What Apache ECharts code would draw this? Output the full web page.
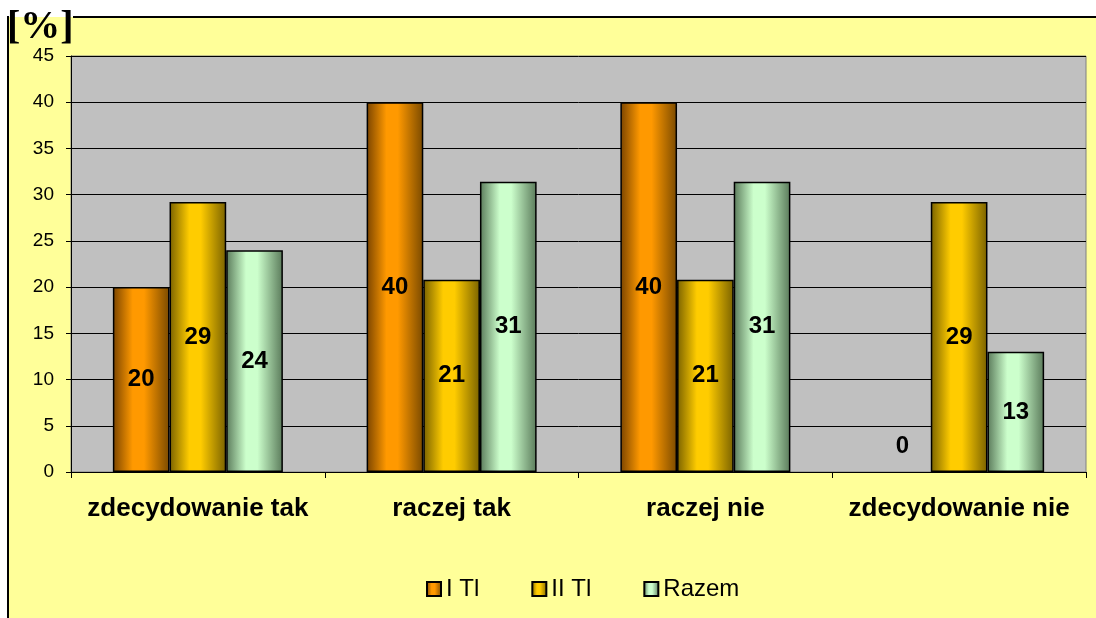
<!DOCTYPE html>
<html>
<head>
<meta charset="utf-8">
<script src="https://cdn.jsdelivr.net/npm/echarts@6/dist/echarts.min.js"></script>
<style>
html,body{margin:0;padding:0;background:#fff;}
#chart{width:1096px;height:618px;}
</style>
</head>
<body>
<div id="chart"></div>
<script>
const categories = ['zdecydowanie tak', 'raczej tak', 'raczej nie', 'zdecydowanie nie'];
const seriesNames = ['I Tl', 'II Tl', 'Razem'];
const valuesITl = [20, 40, 40, 0];
const valuesIITl = [29.2, 20.8, 20.8, 29.2];
const valuesRazem = [24, 31.4, 31.4, 13];
const yMin = 0, yMax = 45, yStep = 5;
const unitLabel = '[%]';

function grad(dark, light, dark2) {
  return new echarts.graphic.LinearGradient(0, 0, 1, 0, [
    {offset: 0, color: dark},
    {offset: 0.35, color: light},
    {offset: 0.55, color: light},
    {offset: 1, color: dark2}
  ]);
}
const fills = [
  grad('#7a4400', '#ff9900', '#7a4a00'),
  grad('#7a6200', '#ffcc00', '#7a6200'),
  grad('#5a7a5a', '#ccffcc', '#5a7a5a')
];

function mkData(vals) {
  return vals.map(v => v === 0
    ? {value: v, itemStyle: {borderWidth: 0}, label: {position: 'top', distance: 14}}
    : v);
}
const allValues = [valuesITl, valuesIITl, valuesRazem];

const chart = echarts.init(document.getElementById('chart'), null, {renderer: 'canvas'});
chart.setOption({
  backgroundColor: '#ffffff',
  animation: false,
  graphic: [
    {type: 'rect', z: -10, shape: {x: 8, y: 17, width: 1100, height: 610}, style: {fill: '#ffff99'}},
    {type: 'line', z: 100, shape: {x1: 73, y1: 17, x2: 1096, y2: 17}, style: {stroke: '#000', lineWidth: 2}},
    {type: 'line', z: 100, shape: {x1: 8, y1: 16, x2: 8, y2: 618}, style: {stroke: '#000', lineWidth: 2}},
    {type: 'text', z: 100, left: 7, top: 8, style: {text: unitLabel, font: 'bold 40px "Liberation Serif"', fill: '#000'}}
  ],
  grid: {
    left: 71, right: 10, top: 56, bottom: 146,
    show: true, backgroundColor: '#c0c0c0', borderColor: '#808080', borderWidth: 1
  },
  legend: {
    left: 421, top: 572,
    itemWidth: 14, itemHeight: 14, itemGap: 52,
    icon: 'rect',
    textStyle: {fontFamily: 'Liberation Sans', fontSize: 24, color: '#000'},
    data: seriesNames
  },
  xAxis: {
    type: 'category',
    data: categories,
    axisLine: {lineStyle: {color: '#000', width: 1}},
    axisTick: {show: true, length: 6, lineStyle: {color: '#000'}},
    axisLabel: {interval: 0, margin: 24, color: '#000', fontFamily: 'Liberation Sans', fontWeight: 'bold', fontSize: 26}
  },
  yAxis: {
    type: 'value', min: yMin, max: yMax, interval: yStep,
    axisLine: {show: true, lineStyle: {color: '#000', width: 1}},
    axisTick: {show: true, length: 5, lineStyle: {color: '#000'}},
    splitLine: {show: true, lineStyle: {color: '#000', width: 1}},
    axisLabel: {margin: 17, color: '#000', fontFamily: 'Liberation Sans', fontSize: 19}
  },
  series: seriesNames.map((name, i) => ({
    name: name,
    type: 'bar',
    data: mkData(allValues[i]),
    barGap: '0%',
    barCategoryGap: '33%',
    itemStyle: {color: fills[i], borderColor: '#000', borderWidth: 1.5},
    label: {
      show: true, position: 'inside', color: '#000',
      fontFamily: 'Liberation Sans', fontWeight: 'bold', fontSize: 24,
      formatter: p => Math.round(p.value).toString()
    }
  }))
});
</script>
</body>
</html>
